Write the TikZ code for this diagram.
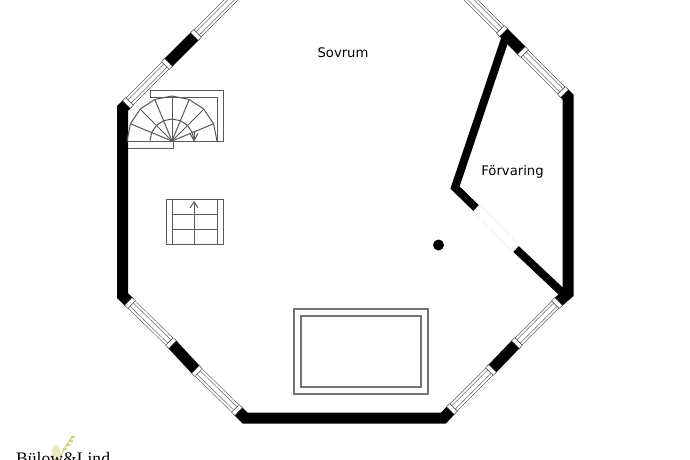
\documentclass[tikz,border=0pt]{standalone}
\usepackage{fontspec}
\setsansfont{DejaVu Sans}
\newfontfamily\logofont{Liberation Serif}
\usetikzlibrary{arrows.meta, calc}

\begin{document}
\begin{tikzpicture}[x=1pt, y=-1pt,
    wall/.style={line width=11, line join=miter},
    inwall/.style={line width=8, line join=miter},
    stair/.style={line width=1, draw=black!65},
    rim/.style={line width=1.2, draw=black!55},
    label/.style={font=\sffamily\fontsize{13.2}{15}\selectfont}]
    \useasboundingbox (0,0) rectangle (690,460);
    \clip (0,0) rectangle (690,460);
    \fill[white] (0,0) rectangle (690,460);
    % Logo
    \fill[olive!18] (53,460) .. controls (50,452) and (52,447) .. (56,444) .. controls (61,449) and (62,455) .. (59,460) -- cycle;
    \draw[olive!40, line width=1] (60,460) .. controls (62,451) and (67,444) .. (73,436);
    \foreach \lx/\ly in {73/437,71/441,68/445,65/449} {
        \fill[olive!40] (\lx,\ly) ellipse (2.2 and 1.3);
    }
    \node[font=\logofont\fontsize{17.6}{20}\selectfont, anchor=base west, inner sep=0] (logo) at (16,464.6) {Bülow\&Lind};
    % Yttervagg
    \draw[wall] (128,103) -- (122.5,108.5) -- (122.5,295.5) -- (130,303);
    \draw[wall] (237,410) -- (245,418) -- (443.5,418) -- (452,409);
    \draw[wall] (563,92) -- (568,97) -- (568,293.5) -- (557,303);
    \draw[wall] (167,64) -- (196,35);
    \draw[wall] (502,31) -- (523,52);
    \draw[wall] (517,343) -- (491,370);
    \draw[wall] (171,343) -- (197,371);
    % Fonster
    \foreach \ax/\ay/\bx/\by in {128/103/167/64, 196/35/238/-7, 463/-8/502/31, 523/52/563/92,
                                 557/303/517/343, 491/370/452/409, 130/303/171/343, 197/371/237/410} {
        \draw[line width=10.5, black!75] (\ax,\ay) -- (\bx,\by);
        \draw[line width=9.5, white] (\ax,\ay) -- (\bx,\by);
        \draw[line width=5, black!75] (\ax,\ay) -- (\bx,\by);
        \draw[line width=4, white] (\ax,\ay) -- (\bx,\by);
        \foreach \cx/\cy/\dx/\dy in {\ax/\ay/\bx/\by, \bx/\by/\ax/\ay} {
            \draw[line width=11, black!75] ($(\cx,\cy)!-2.5pt!(\dx,\dy)$) -- ($(\cx,\cy)!2.5pt!(\dx,\dy)$);
            \draw[line width=10, white] ($(\cx,\cy)!-1.9pt!(\dx,\dy)$) -- ($(\cx,\cy)!1.9pt!(\dx,\dy)$);
        }
    }
    % Forrad
    \draw[inwall] (506,36) -- (455,187.5) -- (476,208);
    \draw[inwall] (516,249) -- (566,296);
    \draw[black!8, line width=0.5] (479,204) -- (519,245);
    \draw[black!8, line width=0.5] (473,211) -- (513,252);
    \fill (438.5,245) circle (5.5);
    % Spiraltrappa
    \draw[stair] (150,97) -- (150,90) -- (223,90) -- (223,141) -- (128,141);
    \draw[stair] (150,97) -- (217,97) -- (217,141);
    \draw[stair] (128,148) -- (173,148) -- (173,141);
    \foreach \a in {0,22.5,...,180} {
        \draw[stair] (172,141) -- ++(-\a:45);
    }
    \foreach \a [remember=\a as \b (initially 0)] in {22.5,45,...,180} {
        \draw[stair] ($(172,141)+(-\b:45)$) -- ($(172,141)+(-\a:45)$);
        \draw[stair] ($(172,141)+(-\b:22)$) -- ($(172,141)+(-\a:22)$);
    }
    \draw[stair, -{Straight Barb[length=7,width=8]}] (194,131) -- (194,141.5);
    % Rak trappa
    \draw[stair] (166,199) rectangle (223,244);
    \foreach \x in {172,217} {
        \draw[stair] (\x,199) -- (\x,244);
    }
    \foreach \y in {214,229} {
        \draw[stair] (172,\y) -- (217,\y);
    }
    \draw[stair, -{Straight Barb[length=6,width=8]}] (194,244) -- (194,201);
    % Sang
    \draw[rim] (294,309) rectangle (428,394);
    \draw[rim] (301,316) rectangle (421,387);
    % Rum
    \node[label] (sovrum) at (343,53) {Sovrum};
    \node[label] (forvaring) at (512.5,172) {Förvaring};
\end{tikzpicture}
\end{document}
